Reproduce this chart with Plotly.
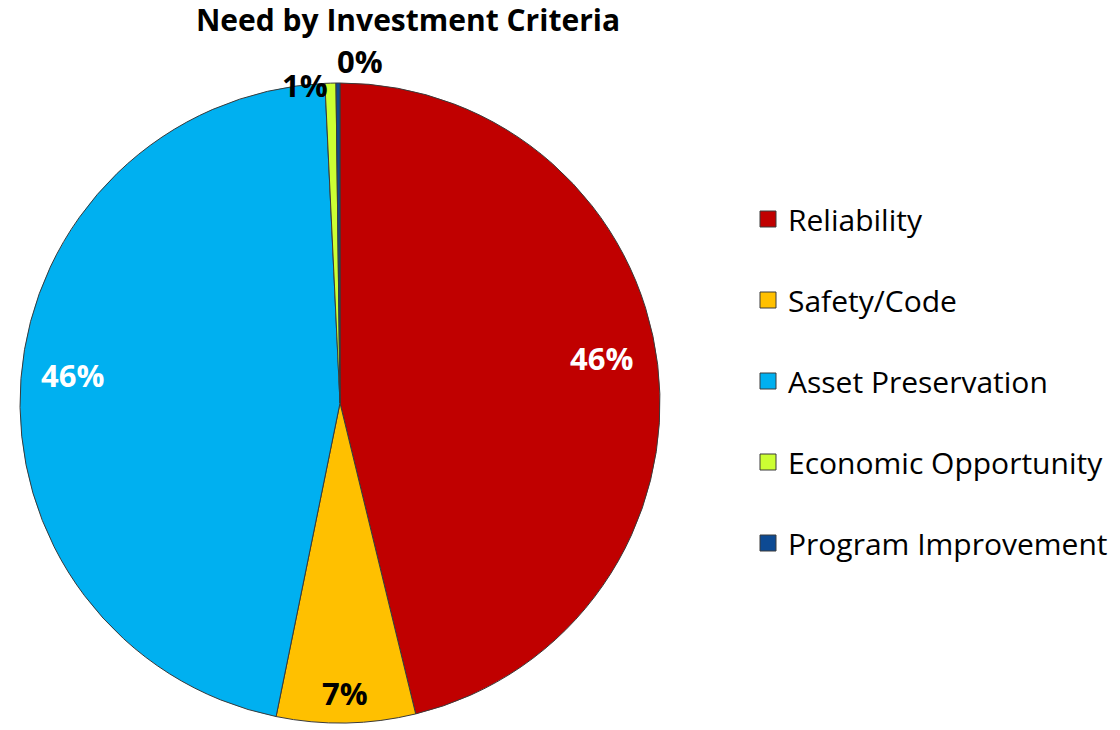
import math
import plotly.graph_objects as go

# Need by investment criteria (share of total, %)
categories = ["Reliability", "Safety/Code", "Asset Preservation",
              "Economic Opportunity", "Program Improvement"]
shares = [46.2, 7.0, 46.05, 0.55, 0.2]
colors = ["#C00000", "#FFC000", "#00B0F0", "#CCFF33", "#0D4A93"]

# Label styling: colour, distance from centre (fraction of radius), angular nudge (deg)
label_colors = ["white", "black", "white", "black", "black"]
label_radius = [0.83, 0.905, 0.84, 1.0, 1.07]
label_nudge = [-3.0, 0.0, 1.5, -4.6, 3.7]

W, H = 1120, 730
FONT = "Open Sans"
PIE_X = [20 / W, 660 / W]
PIE_Y = [7 / H, 647 / H]

fig = go.Figure()

fig.add_trace(go.Pie(
    labels=categories,
    values=shares,
    sort=False,
    direction="clockwise",
    rotation=0,
    marker=dict(colors=colors, line=dict(color="#3a3a3a", width=1)),
    textinfo="none",
    domain=dict(x=PIE_X, y=PIE_Y),
    showlegend=False,
    hoverinfo="label+percent",
))

# Percentage labels placed along each slice's bisector
total = sum(shares)
cx_px = (PIE_X[0] + PIE_X[1]) / 2 * W
cy_px = (1 - (PIE_Y[0] + PIE_Y[1]) / 2) * H
radius_px = min((PIE_X[1] - PIE_X[0]) * W, (PIE_Y[1] - PIE_Y[0]) * H) / 2
cum = 0.0
for val, col, rf, nudge in zip(shares, label_colors, label_radius, label_nudge):
    mid = (cum + val / 2) / total * 360 + nudge
    cum += val
    r = rf * radius_px
    px = cx_px + r * math.sin(math.radians(mid))
    py = cy_px - r * math.cos(math.radians(mid))
    fig.add_annotation(
        x=px / W, y=1 - py / H, xref="paper", yref="paper",
        text=f"<b>{round(val / total * 100)}%</b>", showarrow=False,
        xanchor="center", yanchor="middle",
        font=dict(family=FONT, size=31, color=col),
    )

# Legend entries, one group each so the rows can be spaced apart
for name, col in zip(categories, colors):
    fig.add_trace(go.Scatter(
        x=[None], y=[None], mode="markers", name=name,
        legendgroup=name,
        marker=dict(symbol="square", size=20, color=col,
                    line=dict(color="#3a3a3a", width=1)),
    ))

fig.update_layout(
    width=W, height=H,
    margin=dict(l=0, r=0, t=0, b=0),
    paper_bgcolor="white", plot_bgcolor="white",
    font=dict(family=FONT, color="black"),
    title=dict(text="<b>Need by Investment Criteria</b>",
               font=dict(family=FONT, size=30, color="black"),
               x=408 / W, xanchor="center", y=1 - 20 / H, yanchor="middle"),
    xaxis=dict(visible=False), yaxis=dict(visible=False),
    legend=dict(x=748 / W, xanchor="left", y=1 - 193 / H, yanchor="top",
                font=dict(family=FONT, size=30, color="black"),
                tracegroupgap=39, itemsizing="trace",
                bgcolor="rgba(0,0,0,0)"),
)

fig.write_html("out.html")
